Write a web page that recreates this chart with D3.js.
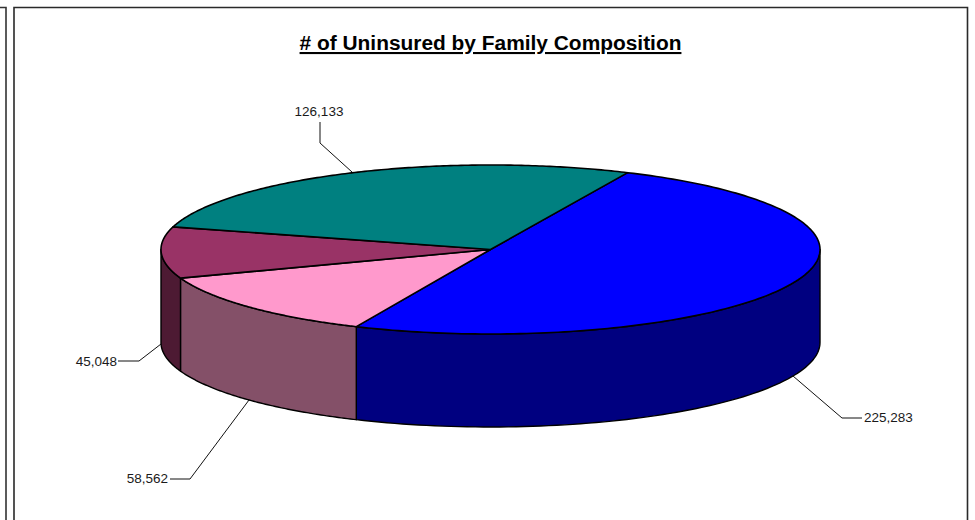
<!DOCTYPE html>
<html><head><meta charset="utf-8">
<script src="https://cdn.jsdelivr.net/npm/d3@7"></script>
<style>
html,body{margin:0;padding:0;background:#fff}
svg{display:block}
text{font-family:"Liberation Sans",Arial,sans-serif;fill:#1a1a1a}
</style></head><body>
<svg id="c" width="975" height="520"></svg>
<script>
const title = "# of Uninsured by Family Composition";
const categories = ["Group A","Group B","Group C","Group D"];
const values = [225283, 58562, 45048, 126133];
const labels = ["225,283","58,562","45,048","126,133"];
const topColors = ["#0000FF","#FF99CC","#993366","#008080"];
const sideColors = ["#000080","#845068","#4D1A33","#004040"];

const svg = d3.select("#c");
const cx = 490.5, cy = 249.5, rx = 329.5, ry = 84.5, depth = 93;
const start = 24.6 * Math.PI / 180;

// frames
svg.append("path").attr("d","M0,7.5H6V520").attr("fill","none").attr("stroke","#333").attr("stroke-width",1.6);
svg.append("path").attr("d","M14,520V7.5H967.5V520").attr("fill","none").attr("stroke","#2a2a2a").attr("stroke-width",1.6);

const pie = d3.pie().sort(null).startAngle(start).endAngle(start + 2*Math.PI);
const arcs = pie(values);

// slight projection correction of the tilted disc
const view = a => a + (1.2*Math.PI/180)*(1-Math.cos(a-start))/2;
const px = a => cx + rx*Math.sin(a);
const py = (a, dz=0) => cy - ry*Math.cos(a) + dz;
const steps = (a0,a1,n=80) => d3.range(n+1).map(k => a0 + (a1-a0)*k/n);
const line = d3.line();

// side walls: visible half of the rim
const vis0 = Math.PI/2, vis1 = 3*Math.PI/2;
arcs.forEach((d,i)=>{
  const a0 = Math.max(view(d.startAngle), vis0), a1 = Math.min(view(d.endAngle), vis1);
  if (a1 <= a0) return;
  const ang = steps(a0,a1);
  const pts = ang.map(a=>[px(a),py(a)]).concat(ang.slice().reverse().map(a=>[px(a),py(a,depth)]));
  svg.append("path").attr("d",line(pts)+"Z").attr("fill",sideColors[i])
    .attr("stroke","#000").attr("stroke-width",1.4).attr("stroke-linejoin","round");
});

// top face
svg.append("g").selectAll("path").data(arcs).join("path")
  .attr("d",d=>{
    const pts = steps(view(d.startAngle),view(d.endAngle),160).map(a=>[px(a),py(a)]);
    return line([[cx,cy],...pts])+"Z";
  })
  .attr("fill",(d,i)=>topColors[i])
  .attr("stroke","#000").attr("stroke-width",1.6).attr("stroke-linejoin","round");

// title
svg.append("text").attr("x",490.5).attr("y",50).attr("text-anchor","middle")
  .attr("font-size",20.9).attr("font-weight","bold")
  .style("text-decoration","underline").style("text-decoration-thickness","3px").style("text-underline-offset","2px")
  .style("text-decoration-skip-ink","none").style("fill","#000").text(title);

// leader lines and labels
const leaders = [
  {pts:[[793,376],[842,418],[862,418]], x:864, y:422, anchor:"start"},
  {pts:[[249,400],[190,479],[170,479]], x:168, y:483, anchor:"end"},
  {pts:[[161,344],[139,361],[118,361]], x:117, y:365.5, anchor:"end"},
  {pts:[[352,172],[320,143],[320,122]], x:319, y:115.5, anchor:"middle"}
];
leaders.forEach((l,i)=>{
  svg.append("path").attr("d",line(l.pts)).attr("fill","none").attr("stroke","#111").attr("stroke-width",1);
  svg.append("text").attr("x",l.x).attr("y",l.y).attr("text-anchor",l.anchor)
    .attr("font-size",13.5).text(labels[i]);
});
</script></body></html>
